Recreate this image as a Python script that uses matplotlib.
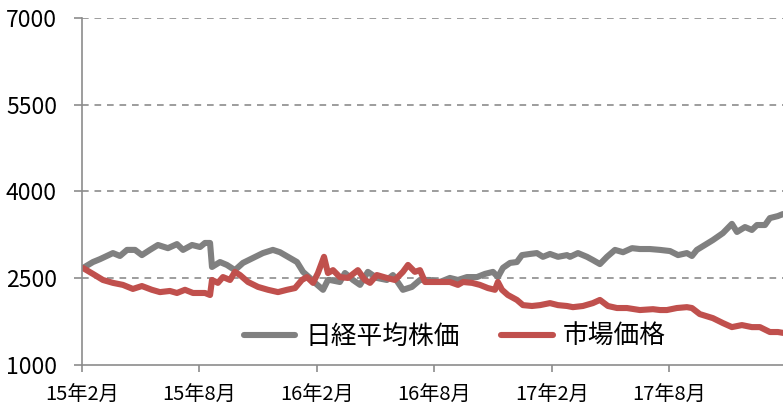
import matplotlib
matplotlib.use('Agg')
import matplotlib.pyplot as plt

plt.rcParams['font.family'] = ['Noto Sans CJK JP', 'DejaVu Sans']

# 経過月数（2015年2月=0）と各系列の値
nikkei_t = [0.05, 0.56, 0.92, 1.58, 1.94, 2.30, 2.71, 3.06, 3.47, 3.88, 4.39, 4.85, 5.16, 5.62,
            6.03, 6.28, 6.54, 6.64, 7.05, 7.40, 7.81, 8.22, 8.73, 9.24, 9.75, 10.11, 10.52, 10.98,
            11.29, 11.64, 11.90, 12.31, 12.56, 12.66, 13.17, 13.43, 13.84, 14.20, 14.60, 15.06,
            15.57, 15.88, 16.39, 16.85, 17.26, 17.77, 18.28, 18.79, 19.20, 19.66, 20.17, 20.58,
            20.99, 21.24, 21.50, 21.86, 22.21, 22.47, 22.88, 23.23, 23.54, 23.90, 24.31, 24.77,
            24.92, 25.33, 25.79, 26.09, 26.45, 26.81, 27.22, 27.63, 28.09, 28.49, 29.00, 29.52,
            30.03, 30.44, 30.89, 31.15, 31.40, 31.81, 32.22, 32.73, 33.19, 33.45, 33.86, 34.21,
            34.47, 34.88, 35.13, 35.54, 35.80]
nikkei = [2677, 2780, 2830, 2935, 2885, 2990, 2990, 2900, 2990, 3075, 3020, 3090, 2990, 3075,
          3040, 3110, 3110, 2695, 2780, 2730, 2640, 2765, 2850, 2935, 2990, 2950, 2870, 2780,
          2610, 2505, 2420, 2300, 2470, 2470, 2435, 2590, 2470, 2385, 2610, 2505,
          2470, 2555, 2300, 2350, 2470, 2470, 2435, 2505, 2470, 2520, 2520, 2575,
          2610, 2520, 2680, 2765, 2780, 2900, 2920, 2935, 2870, 2920, 2870, 2900,
          2870, 2935, 2870, 2815, 2745, 2870, 2990, 2950, 3020, 3005, 3005, 2990,
          2970, 2900, 2935, 2885, 2990, 3075, 3160, 3280, 3440, 3300, 3385, 3335,
          3420, 3420, 3540, 3575, 3610]

market_t = [0.05, 0.56, 1.07, 1.58, 2.09, 2.60, 3.06, 3.57, 3.98, 4.49, 4.85, 5.26, 5.67, 6.28,
            6.54, 6.64, 6.94, 7.20, 7.56, 7.81, 8.07, 8.48, 8.99, 9.50, 10.01, 10.47, 10.88,
            11.23, 11.49, 11.80, 12.05, 12.36, 12.56, 12.82, 13.17, 13.58, 14.09, 14.45, 14.71,
            15.06, 15.57, 15.98, 16.39, 16.65, 17.00, 17.26, 17.52, 18.03, 18.43, 18.79, 19.20,
            19.46, 19.92, 20.32, 20.73, 21.09, 21.24, 21.45, 21.75, 22.21, 22.52, 22.98, 23.39,
            23.90, 24.31, 24.77, 25.07, 25.58, 26.09, 26.45, 26.86, 27.32, 27.83, 28.49, 29.16,
            29.52, 29.87, 30.38, 30.89, 31.15, 31.55, 32.22, 32.73, 33.19, 33.70, 34.21, 34.62,
            35.13, 35.54, 35.80]
market = [2677, 2575, 2470, 2420, 2385, 2315, 2365, 2300, 2260, 2280, 2245, 2300, 2245, 2245,
          2210, 2470, 2420, 2520, 2470, 2610, 2555, 2435, 2350, 2300, 2260, 2300, 2330,
          2470, 2520, 2420, 2590, 2870, 2590, 2640, 2520, 2505, 2640, 2470, 2420,
          2555, 2505, 2470, 2610, 2730, 2610, 2640, 2435, 2435, 2435, 2435, 2385,
          2435, 2420, 2385, 2330, 2300, 2435, 2300, 2210, 2125, 2035, 2020, 2035,
          2070, 2035, 2020, 2000, 2020, 2070, 2125, 2020, 1985, 1985, 1950, 1965,
          1950, 1950, 1985, 2000, 1985, 1880, 1810, 1725, 1655, 1690, 1655, 1655,
          1570, 1570, 1555]

tick_pos = [0, 6, 12, 18, 24, 30]
tick_labels = ['15年2月', '15年8月', '16年2月', '16年8月', '17年2月', '17年8月']
y_ticks = [1000, 2500, 4000, 5500, 7000]

fig = plt.figure(figsize=(7.83, 4.05), dpi=100)
ax = fig.add_axes([0.1047, 0.0988, 0.8953, 0.8568])

ax.plot(nikkei_t, nikkei, color='#808080', linewidth=4.4, label='日経平均株価',
        solid_capstyle='round', solid_joinstyle='round')
ax.plot(market_t, market, color='#C0504D', linewidth=4.4, label='市場価格',
        solid_capstyle='round', solid_joinstyle='round')

ax.set_xlim(0, 35.8)
ax.set_ylim(1000, 7000)
ax.set_yticks(y_ticks)
ax.set_xticks(tick_pos)
ax.set_xticklabels(tick_labels)

# 破線の横グリッド
for v in y_ticks[1:]:
    ax.axhline(v, color='#8c8c8c', linewidth=1.2, linestyle=(0, (4, 3.5)), zorder=0)

for s in ['top', 'right']:
    ax.spines[s].set_visible(False)
for s in ['left', 'bottom']:
    ax.spines[s].set_color('#8c8c8c')
    ax.spines[s].set_linewidth(1.2)

ax.tick_params(axis='y', direction='out', length=6, width=1.2, color='#8c8c8c',
               labelsize=16.5, pad=12)
ax.tick_params(axis='x', direction='out', length=5, width=1.2, color='#8c8c8c',
               labelsize=14.5, pad=9)

ax.legend(loc='center', bbox_to_anchor=(0.532, 0.081), ncol=2, frameon=False,
          fontsize=18.5, handlelength=2.0, handletextpad=0.4, columnspacing=1.6)

plt.savefig('out.png', dpi=100)
